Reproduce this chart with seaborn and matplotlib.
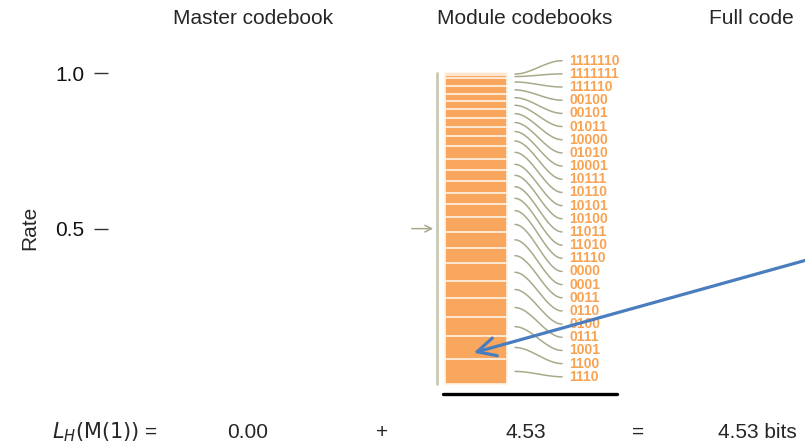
import numpy as np
import pandas as pd
import seaborn as sns
import matplotlib.pyplot as plt

# Module codebook: codewords (top to bottom of the bar) and their rates
codes = ["1111110", "1111111", "111110", "00100", "00101", "01011", "10000",
         "01010", "10001", "10111", "10110", "10101", "10100", "11011",
         "11010", "11110", "0000", "0001", "0011", "0110", "0100", "0111",
         "1001", "1100", "1110"]
rates = [0.005, 0.011, 0.024, 0.027, 0.023, 0.026, 0.028, 0.029, 0.029,
         0.032, 0.041, 0.036, 0.035, 0.038, 0.037, 0.042, 0.047, 0.052,
         0.050, 0.057, 0.054, 0.062, 0.061, 0.073, 0.081]
titles = ["Master codebook", "Module codebooks", "Full code"]
master_len = "0.00"
module_len = "4.53"
total_len = "4.53 bits"

sns.set_theme(style="white")
plt.rcParams["font.family"] = ["Liberation Sans", "DejaVu Sans"]

BAR = "#f9a75e"
LABEL = "#f8a252"
CURVE = "#a9a98a"


def ry(ypx):
    # pixel row -> rate units
    return (384 - ypx) / 310.7


fig = plt.figure(figsize=(8.05, 4.44), dpi=100)
ax = fig.add_axes([108 / 805, 0, 697 / 805, 1])

df = pd.DataFrame({"code": codes, "rate": rates})
df["top"] = df["rate"][::-1].cumsum()[::-1]
df["mid"] = df["top"] - df["rate"] / 2
df["x"] = 476

# stacked bar drawn as overlapping cumulative bars, tallest first
sns.barplot(data=df, x="x", y="top", hue="code", hue_order=codes,
            palette=[BAR] * len(codes), saturation=1, dodge=False,
            native_scale=True, width=62, edgecolor="#fff4e8", linewidth=1.2,
            legend=False, errorbar=None, ax=ax)

# curves from segments to codeword labels
t = np.linspace(0, 1, 40)
s = t * t * (3 - 2 * t)
for i, row in df.iterrows():
    y_lab = ry(60.7 + i * 13.17)
    ax.plot(515 + 47 * t, row["mid"] + (y_lab - row["mid"]) * s,
            color=CURVE, lw=1.1)
    ax.text(569, y_lab, row["code"], color=LABEL, fontsize=10,
            fontweight="bold", va="center", ha="left")

# rate scale line and arrow
ax.plot([437, 437], [0, 1], color="#c9c9b3", lw=2)
ax.annotate("", xy=(436, 0.5), xytext=(409, 0.5),
            arrowprops=dict(arrowstyle="->", color=CURVE, lw=1.1))

# underline below module codebook
ax.plot([443, 617], [ry(394), ry(394)], color="black", lw=2.4)

# blue pointer arrow
ax.annotate("", xy=(471, ry(353.5)), xytext=(830, ry(253.5)),
            arrowprops=dict(arrowstyle="->,head_length=1.1,head_width=0.55",
                            color="#4a7dbd", lw=2.3), annotation_clip=False)

# column titles
ax.text(253, ry(19), titles[0], fontsize=15, ha="center", va="center")
ax.text(525, ry(19), titles[1], fontsize=15, ha="center", va="center")
ax.text(709, ry(19), titles[2], fontsize=15, ha="left", va="center")

# description length equation
yb = ry(432)
ax.text(158, yb, r"$L_H(\mathrm{M}(1))$ =", fontsize=15, ha="right",
        va="center")
ax.text(248, yb, master_len, fontsize=15, ha="center", va="center")
ax.text(382, yb, "+", fontsize=15, ha="center", va="center")
ax.text(526, yb, module_len, fontsize=15, ha="center", va="center")
ax.text(638, yb, "=", fontsize=15, ha="center", va="center")
ax.text(718, yb, total_len, fontsize=15, ha="left", va="center")

fig.text(30 / 805, 1 - 228 / 444, "Rate", rotation=90, fontsize=15,
         ha="center", va="center")

ax.set_xlim(108, 805)
ax.set_ylim(ry(444), ry(0))
ax.set_yticks([0.5, 1.0])
ax.set_yticklabels(["0.5", "1.0"])
ax.set_xticks([])
ax.set_xlabel("")
ax.set_ylabel("")
ax.tick_params(axis="y", left=True, length=10, width=1, pad=7,
               labelsize=15, color="#333333", labelcolor="#111111")
for sp in ax.spines.values():
    sp.set_visible(False)
ax.patch.set_alpha(0)

fig.savefig("out.png", dpi=100)
